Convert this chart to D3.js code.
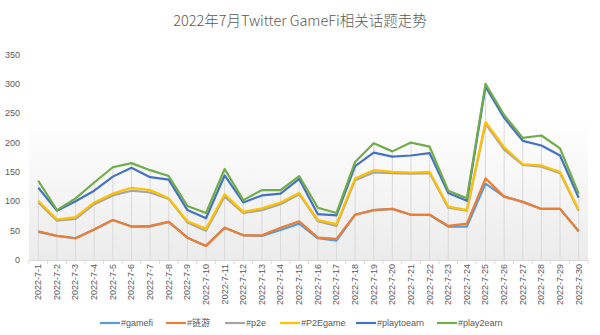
<!DOCTYPE html>
<html lang="zh">
<head>
  <meta charset="UTF-8">
  <title>2022年7月Twitter GameFi相关话题走势</title>
  <script src="https://d3js.org/d3.v7.min.js"></script>
  <style>
    body { margin: 0; background: #fff; }
    svg { display: block; font-family: "Liberation Sans", "Noto Sans CJK SC", sans-serif; }
  </style>
</head>
<body>
  <svg width="600" height="335"></svg>
  <script>
    const days = d3.range(1, 31).map(d => `2022-7-${d}`);

    const gamefi    = [48, 41, 37, 52, 68, 57, 57, 65, 38, 24, 55, 42, 41, 51, 62, 37, 33, 77, 85, 87, 77, 77, 57, 57, 130, 108, 99, 87, 87, 49];
    const lianyou   = [49, 41, 37, 52, 68, 57, 58, 65, 38, 24, 55, 42, 42, 55, 66, 38, 36, 77, 85, 87, 77, 77, 58, 62, 139, 108, 99, 87, 87, 49];
    const p2e       = [98, 67, 70, 95, 110, 118, 115, 104, 64, 50, 108, 80, 85, 95, 112, 66, 58, 136, 149, 148, 147, 148, 89, 84, 232, 188, 162, 159, 148, 84];
    const p2egame   = [101, 69, 73, 98, 113, 123, 119, 105, 66, 53, 112, 82, 88, 98, 114, 68, 61, 139, 153, 150, 149, 150, 91, 85, 235, 192, 163, 161, 150, 85];
    const playtoearn = [123, 84, 100, 118, 142, 157, 141, 137, 85, 71, 144, 98, 110, 113, 138, 78, 76, 160, 183, 176, 178, 182, 114, 101, 295, 242, 203, 195, 178, 106];
    const play2earn = [135, 85, 105, 132, 158, 165, 153, 143, 92, 80, 155, 102, 119, 119, 143, 89, 80, 167, 199, 185, 200, 193, 118, 105, 300, 247, 208, 212, 190, 113];

    const seriesNames = ["#gamefi", "#链游", "#p2e", "#P2Egame", "#playtoearn", "#play2earn"];
    const seriesValues = [gamefi, lianyou, p2e, p2egame, playtoearn, play2earn];
    const seriesColors = ["#5B9BD5", "#ED7D31", "#A5A5A5", "#FFC000", "#4472C4", "#70AD47"];
    const yTicks = [0, 50, 100, 150, 200, 250, 300, 350];

    const svg = d3.select("svg");
    const plotLeft = 29, plotRight = 588, plotTop = 54.5, plotBottom = 260;

    const x = d3.scaleBand().domain(days).range([plotLeft, plotRight]);
    const y = d3.scaleLinear().domain([0, 350]).range([plotBottom, plotTop]);

    // plot background gradient
    const grad = svg.append("defs").append("linearGradient")
      .attr("id", "bg").attr("x1", 0).attr("y1", 0).attr("x2", 0).attr("y2", 1);
    grad.append("stop").attr("offset", "35%").attr("stop-color", "#ffffff");
    grad.append("stop").attr("offset", "100%").attr("stop-color", "#ebebeb");

    svg.append("rect")
      .attr("x", plotLeft).attr("y", 40)
      .attr("width", plotRight - plotLeft).attr("height", plotBottom - 40)
      .attr("fill", "url(#bg)");

    // title
    svg.append("text")
      .attr("x", 300).attr("y", 26)
      .attr("text-anchor", "middle")
      .attr("font-family", "'Noto Sans CJK SC', sans-serif")
      .attr("font-size", 14.5)
      .attr("font-weight", 300)
      .attr("fill", "#595959")
      .text("2022年7月Twitter GameFi相关话题走势");

    // y tick labels
    svg.append("g").selectAll("text")
      .data(yTicks).enter().append("text")
      .attr("x", 20).attr("y", d => y(d) + 3)
      .attr("text-anchor", "end")
      .attr("font-size", 9)
      .attr("fill", "#595959")
      .text(d => d);

    // drop lines from the highest series to the axis
    svg.append("g").selectAll("line")
      .data(days).enter().append("line")
      .attr("x1", d => x(d) + x.bandwidth() / 2)
      .attr("x2", d => x(d) + x.bandwidth() / 2)
      .attr("y1", (d, i) => y(d3.max(seriesValues, s => s[i])))
      .attr("y2", plotBottom)
      .attr("stroke", "#d9d9d9")
      .attr("stroke-width", 1);

    // x axis
    const xAxis = svg.append("g")
      .attr("transform", `translate(0,${plotBottom})`)
      .call(d3.axisBottom(x).tickSize(0).tickPadding(4));
    xAxis.select(".domain").attr("stroke", "#d9d9d9");
    xAxis.selectAll(".tick text")
      .attr("font-size", 9)
      .attr("fill", "#595959")
      .attr("text-anchor", "end")
      .attr("transform", "rotate(-90)")
      .attr("x", -4).attr("y", 0).attr("dy", "0.32em");
    // small tick marks at the category boundaries
    xAxis.append("g").selectAll("line")
      .data(days.concat(["end"])).enter().append("line")
      .attr("x1", (d, i) => plotLeft + i * x.step())
      .attr("x2", (d, i) => plotLeft + i * x.step())
      .attr("y1", 0).attr("y2", 4)
      .attr("stroke", "#d9d9d9");

    // series lines
    const line = d3.line()
      .x((d, i) => x(days[i]) + x.bandwidth() / 2)
      .y(d => y(d));

    svg.append("g").selectAll("path")
      .data(seriesValues).enter().append("path")
      .attr("d", d => line(d))
      .attr("fill", "none")
      .attr("stroke", (d, i) => seriesColors[i])
      .attr("stroke-width", 2.2)
      .attr("stroke-linejoin", "round");

    // legend
    const legendX = [100, 166, 225, 280, 356, 437];
    const legend = svg.append("g").selectAll("g")
      .data(seriesNames).enter().append("g")
      .attr("transform", (d, i) => `translate(${legendX[i]},323)`);
    legend.append("line")
      .attr("x1", 0).attr("x2", 20)
      .attr("stroke", (d, i) => seriesColors[i])
      .attr("stroke-width", 2.2);
    legend.append("text")
      .attr("x", 21).attr("y", 3)
      .attr("font-size", 9)
      .attr("fill", "#595959")
      .text(d => d);
  </script>
</body>
</html>
